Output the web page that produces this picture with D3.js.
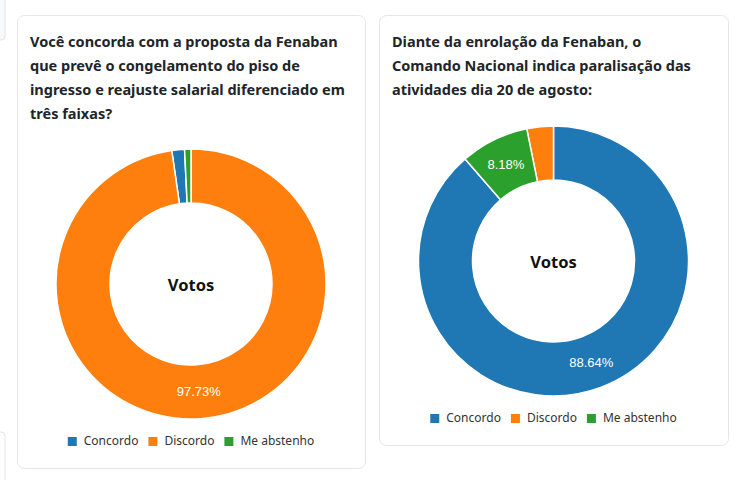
<!DOCTYPE html>
<html><head><meta charset="utf-8">
<script src="https://cdn.jsdelivr.net/npm/d3@7/dist/d3.min.js"></script>
<style>
html,body{margin:0;padding:0;background:#fff;}
svg{display:block;}
</style></head>
<body>
<svg id="c" width="746" height="480"></svg>
<script>
const categories = ["Concordo", "Discordo", "Me abstenho"];
const colors = ["#1f77b4", "#ff7f0e", "#2ca02c"];
const values1 = [1.52, 97.73, 0.76];
const values2 = [88.64, 3.18, 8.18];
const title1 = ["Você concorda com a proposta da Fenaban", "que prevê o congelamento do piso de", "ingresso e reajuste salarial diferenciado em", "três faixas?"];
const title2 = ["Diante da enrolação da Fenaban, o", "Comando Nacional indica paralisação das", "atividades dia 20 de agosto:"];
const centerLabel = "Votos";

const svg = d3.select("#c");
const color = d3.scaleOrdinal().domain(categories).range(colors);

// faint partial panels at left edge
svg.append("rect").attr("x",-10).attr("y",-10).attr("width",15).attr("height",50).attr("rx",4)
  .attr("fill","#f8f9fa").attr("stroke","#e3e3e3");
svg.append("rect").attr("x",-10).attr("y",432).attr("width",15).attr("height",60).attr("rx",4)
  .attr("fill","#fff").attr("stroke","#e3e3e3");

const panels = [
  {x:17, y:15, w:348, h:453, title:title1, values:values1, cy:284, legendY:441},
  {x:379, y:15, w:349, h:430, title:title2, values:values2, cy:261, legendY:418}
];

panels.forEach(p => {
  const g = svg.append("g");
  g.append("rect").attr("x",p.x+0.5).attr("y",p.y+0.5).attr("width",p.w).attr("height",p.h)
    .attr("rx",7).attr("fill","#fff").attr("stroke","#e6e6e6");
  const t = g.append("text").attr("font-family","'Noto Sans', 'Open Sans', sans-serif")
    .attr("font-weight","bold").attr("font-size",14.5).attr("fill","#212529");
  p.title.forEach((line,i)=>{
    t.append("tspan").attr("x",p.x+13).attr("y",p.y+32+i*24).text(line);
  });
  const cx = p.x + p.w/2;
  const data = categories.map((c,i)=>({c, v:p.values[i]}));
  const pie = d3.pie().value(d=>d.v);
  const outer = 135, inner = 81;
  const arc = d3.arc().innerRadius(inner).outerRadius(outer);
  const labelArc = d3.arc().innerRadius((inner+outer)/2).outerRadius((inner+outer)/2);
  const dg = g.append("g").attr("transform",`translate(${cx},${p.cy})`);
  const arcs = pie(data);
  dg.selectAll("path").data(arcs).join("path")
    .attr("d",arc).attr("fill",d=>color(d.data.c)).attr("stroke","#fff").attr("stroke-width",1.5);
  dg.selectAll("text.lbl").data(arcs.filter(d=>d.data.v>=5)).join("text")
    .attr("class","lbl")
    .attr("transform",d=>`translate(${labelArc.centroid(d)})`)
    .attr("text-anchor","middle").attr("dominant-baseline","central")
    .attr("font-family","'Liberation Sans', Arial, sans-serif").attr("font-size",13)
    .attr("fill","#fff").text(d=>d3.format(".2f")(d.data.v)+"%");
  dg.append("text").attr("text-anchor","middle").attr("dominant-baseline","central")
    .attr("font-family","'Noto Sans', 'Open Sans', sans-serif").attr("font-weight","bold")
    .attr("font-size",16.5).attr("fill","#111").text(centerLabel);

  // legend
  const lg = g.append("g");
  const items = lg.selectAll("g").data(categories).join("g");
  items.append("rect").attr("width",9).attr("height",9).attr("y",-8).attr("fill",d=>color(d));
  items.append("text").attr("x",16).attr("y",0).attr("font-family","'Noto Sans', 'Open Sans', sans-serif")
    .attr("font-size",12).attr("fill","#333").text(d=>d);
  let xo = 0;
  items.each(function(){
    d3.select(this).attr("transform",`translate(${xo},0)`);
    xo += this.getBBox().width + 10;
  });
  const total = xo - 10;
  lg.attr("transform",`translate(${cx - total/2},${p.legendY+4})`);
});
</script>
</body></html>
